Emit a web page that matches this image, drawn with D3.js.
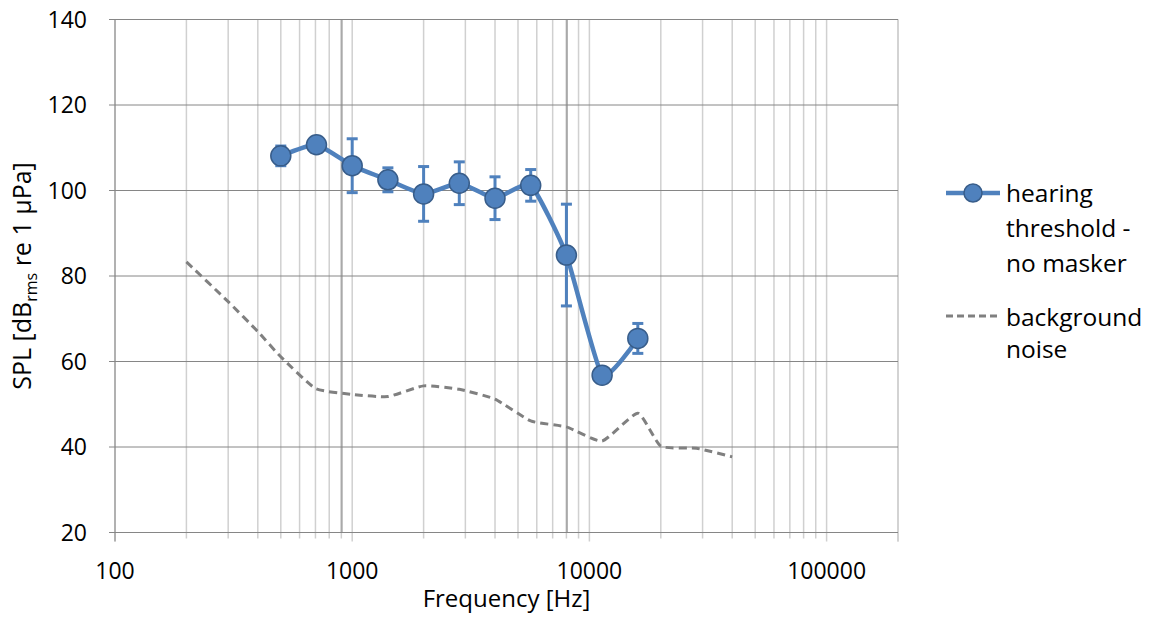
<!DOCTYPE html>
<meta charset="utf-8">
<style>
body { margin: 0; background: #fff; }
text { font-family: "Open Sans", sans-serif; fill: #000; }
.grid-h line { stroke: #868686; stroke-width: 1; }
.grid-v line { stroke: #d0d0d0; stroke-width: 1.5; }
</style>
<svg width="1153" height="617"></svg>
<script src="https://cdn.jsdelivr.net/npm/d3@7"></script>
<script>

// hearing threshold (no masker)
var freqs = [500, 707, 1000, 1414, 2000, 2828, 4000, 5657, 8000, 11314, 16000];
var threshold = [108.1, 110.7, 105.8, 102.5, 99.2, 101.7, 98.2, 101.2, 84.9, 56.8, 65.4];
var thresholdErr = [2.3, 0.8, 6.3, 2.8, 6.4, 5.0, 5.0, 3.7, 11.9, 0.8, 3.5];

// background noise
var noiseFreqs = [200, 300, 400, 500, 700, 1000, 1414, 2000, 2828, 4000, 5657, 8000, 11314, 16000, 20000, 28284, 40000];
var noise = [83.3, 74, 67, 61.1, 53.7, 52.3, 51.8, 54.3, 53.5, 51.2, 46.1, 44.7, 41.4, 47.9, 40.2, 39.7, 37.7];

// darker reference lines
var refLines = [903, 8035];

var xTicks = [100, 1000, 10000, 100000];
var yTicks = [20, 40, 60, 80, 100, 120, 140];

var svg = d3.select("svg"),
    plotL = 115, plotR = 898, plotT = 19.5, plotB = 532.5;

var x = d3.scaleLog().domain([100, 200000]).range([plotL, plotR]);
var y = d3.scaleLinear().domain([20, 140]).range([plotB, plotT]);

// minor values for vertical grid
var minor = [];
[100, 1000, 10000, 100000].forEach(function(d) {
  for (var k = 1; k <= 9; k++) if (d * k <= 200000) minor.push(d * k);
});
minor.push(200000);

svg.append("g").attr("class", "grid-v")
  .selectAll("line").data(minor).enter().append("line")
    .attr("x1", function(d) { return x(d); })
    .attr("x2", function(d) { return x(d); })
    .attr("y1", plotT)
    .attr("y2", function(d) { return plotB + (xTicks.indexOf(d) >= 0 || d === 200000 ? 9 : 6); });

svg.append("g")
  .selectAll("line").data(refLines).enter().append("line")
    .attr("x1", function(d) { return x(d); })
    .attr("x2", function(d) { return x(d); })
    .attr("y1", plotT).attr("y2", plotB)
    .attr("stroke", "#a9a9a9").attr("stroke-width", 2);

svg.append("g").attr("class", "grid-h")
  .selectAll("line").data(yTicks).enter().append("line")
    .attr("x1", plotL - 6).attr("x2", plotR)
    .attr("y1", function(d) { return y(d); })
    .attr("y2", function(d) { return y(d); });

svg.append("line")
    .attr("x1", plotL).attr("x2", plotL).attr("y1", plotT).attr("y2", plotB + 9)
    .attr("stroke", "#868686");

// tick labels
svg.append("g").selectAll("text").data(yTicks).enter().append("text")
    .attr("x", 87).attr("y", function(d) { return y(d); })
    .attr("dy", "0.35em").attr("text-anchor", "end")
    .style("font-size", "23px")
    .text(function(d) { return d; });

svg.append("g").selectAll("text").data(xTicks).enter().append("text")
    .attr("x", function(d) { return x(d); }).attr("y", 579)
    .attr("text-anchor", "middle")
    .style("font-size", "23px")
    .text(function(d) { return d; });

svg.append("text")
    .attr("x", (plotL + plotR) / 2).attr("y", 607)
    .attr("text-anchor", "middle")
    .style("font-size", "24px")
    .text("Frequency [Hz]");

var yt = svg.append("text")
    .attr("transform", "translate(31," + ((plotT + plotB) / 2) + ") rotate(-90)")
    .attr("text-anchor", "middle")
    .style("font-size", "25px");
yt.append("tspan").text("SPL [dB");
yt.append("tspan").attr("dy", 6).style("font-size", "16px").text("rms");
yt.append("tspan").attr("dy", -6).text(" re 1 µPa]");

var curve = d3.curveCardinal.tension(0.5);

// background noise
var noiseData = noiseFreqs.map(function(f, i) { return [f, noise[i]]; });
svg.append("path")
    .datum(noiseData)
    .attr("fill", "none")
    .attr("stroke", "#808080")
    .attr("stroke-width", 3)
    .attr("stroke-dasharray", "8,5")
    .attr("d", d3.line().curve(curve)
      .x(function(d) { return x(d[0]); })
      .y(function(d) { return y(d[1]); }));

// threshold
var thData = freqs.map(function(f, i) { return {f: f, v: threshold[i], e: thresholdErr[i]}; });
svg.append("path")
    .datum(thData)
    .attr("fill", "none")
    .attr("stroke", "#4f81bd")
    .attr("stroke-width", 4.5)
    .attr("d", d3.line().curve(curve)
      .x(function(d) { return x(d.f); })
      .y(function(d) { return y(d.v); }));

var eb = svg.append("g").attr("stroke", "#4f81bd").attr("stroke-width", 3)
  .selectAll("g").data(thData).enter().append("g");
eb.append("line")
    .attr("x1", function(d) { return x(d.f); }).attr("x2", function(d) { return x(d.f); })
    .attr("y1", function(d) { return y(d.v + d.e); }).attr("y2", function(d) { return y(d.v - d.e); });
eb.append("line")
    .attr("x1", function(d) { return x(d.f) - 5.5; }).attr("x2", function(d) { return x(d.f) + 5.5; })
    .attr("y1", function(d) { return y(d.v + d.e); }).attr("y2", function(d) { return y(d.v + d.e); });
eb.append("line")
    .attr("x1", function(d) { return x(d.f) - 5.5; }).attr("x2", function(d) { return x(d.f) + 5.5; })
    .attr("y1", function(d) { return y(d.v - d.e); }).attr("y2", function(d) { return y(d.v - d.e); });

svg.append("g").selectAll("circle").data(thData).enter().append("circle")
    .attr("cx", function(d) { return x(d.f); })
    .attr("cy", function(d) { return y(d.v); })
    .attr("r", 10)
    .attr("fill", "#4f81bd")
    .attr("stroke", "#385d8a")
    .attr("stroke-width", 1.5);

// legend
var lg = svg.append("g");
lg.append("line").attr("x1", 946).attr("x2", 1000).attr("y1", 193).attr("y2", 193)
    .attr("stroke", "#4f81bd").attr("stroke-width", 4.5);
lg.append("circle").attr("cx", 973).attr("cy", 193).attr("r", 9)
    .attr("fill", "#4f81bd").attr("stroke", "#385d8a").attr("stroke-width", 1.5);
lg.append("line").attr("x1", 946).attr("x2", 1000).attr("y1", 316).attr("y2", 316)
    .attr("stroke", "#808080").attr("stroke-width", 3).attr("stroke-dasharray", "7,4");

var legendText = [["hearing", 202], ["threshold -", 237], ["no masker", 272], ["background", 326], ["noise", 358]];
lg.selectAll("text").data(legendText).enter().append("text")
    .attr("x", 1006).attr("y", function(d) { return d[1]; })
    .style("font-size", "24.5px")
    .text(function(d) { return d[0]; });

</script>
